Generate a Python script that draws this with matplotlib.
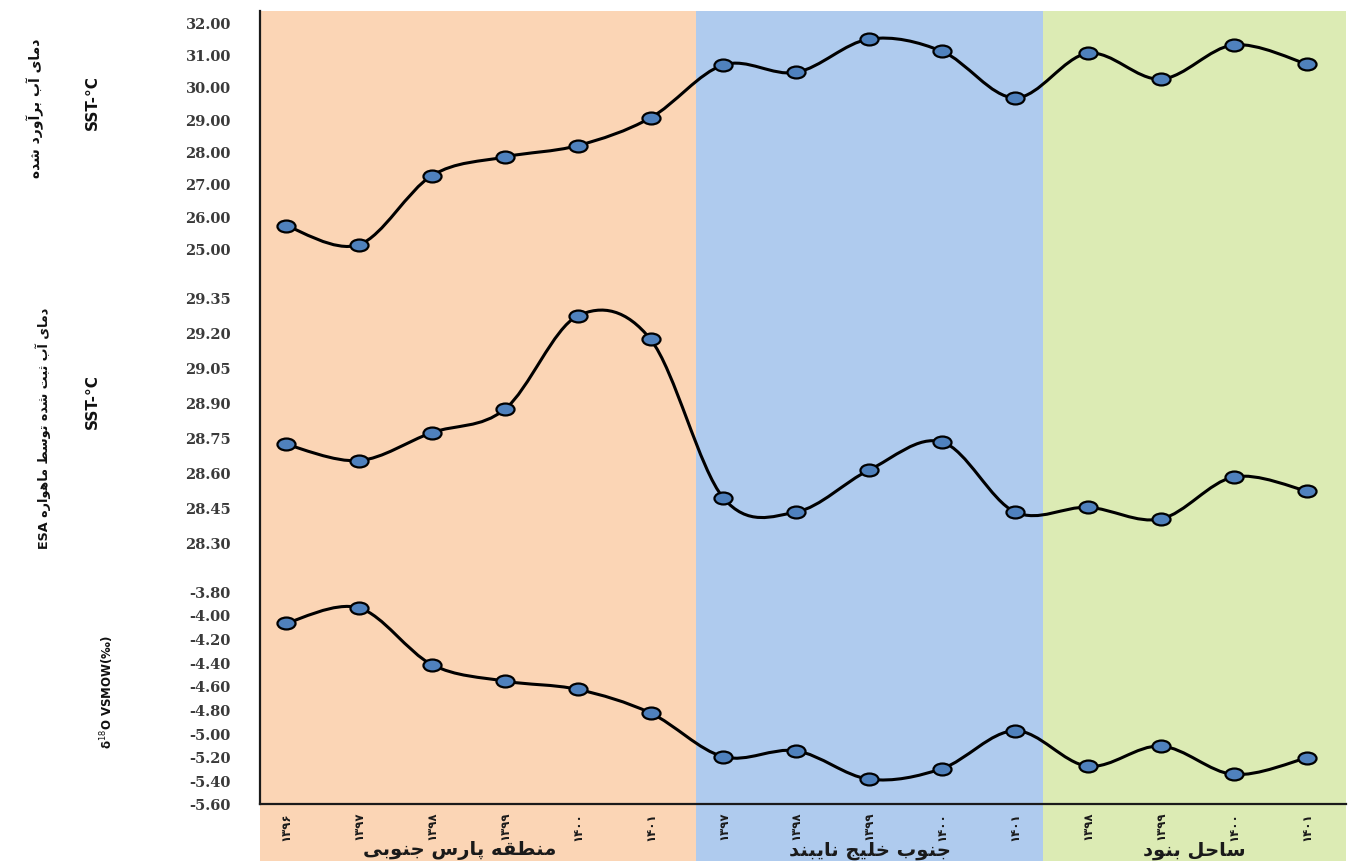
import matplotlib
matplotlib.use('Agg')
import matplotlib.pyplot as plt
from matplotlib.path import Path
from matplotlib.patches import PathPatch
import matplotlib.transforms as mtransforms
import numpy as np

# ---------------- data ----------------
years = ['۱۳۹۶', '۱۳۹۷', '۱۳۹۸', '۱۳۹۹', '۱۴۰۰', '۱۴۰۱',
         '۱۳۹۷', '۱۳۹۸', '۱۳۹۹', '۱۴۰۰', '۱۴۰۱',
         '۱۳۹۸', '۱۳۹۹', '۱۴۰۰', '۱۴۰۱']
regions = ['منطقه پارس جنوبی', 'جنوب خلیج نایبند', 'ساحل بنود']
region_sizes = [6, 5, 4]
region_colors = ['#FBD5B5', '#AFCBEE', '#DCEBB4']

sst_estimated = [25.70, 25.11, 27.25, 27.83, 28.18, 29.04, 30.68, 30.45,
                 31.48, 31.10, 29.66, 31.04, 30.24, 31.30, 30.71]
sst_esa = [28.72, 28.65, 28.77, 28.87, 29.27, 29.17, 28.49, 28.43,
           28.61, 28.73, 28.43, 28.45, 28.40, 28.58, 28.52]
d18o = [-4.07, -3.94, -4.42, -4.56, -4.63, -4.83, -5.20, -5.15,
        -5.39, -5.30, -4.98, -5.28, -5.11, -5.35, -5.21]

ticks_top = [25.00, 26.00, 27.00, 28.00, 29.00, 30.00, 31.00, 32.00]
ticks_mid = [28.30, 28.45, 28.60, 28.75, 28.90, 29.05, 29.20, 29.35]
ticks_bot = [-5.60, -5.40, -5.20, -5.00, -4.80, -4.60, -4.40, -4.20, -4.00, -3.80]

label_top = 'دمای آب برآورد شده'
label_mid = 'دمای آب ثبت شده توسط ماهواره'
label_unit = 'SST-°C'
label_bot = r'δ$^{18}$O VSMOW(‰)'

# ------------- Persian shaping (presentation forms, visual order) -------------
FORMS = {
    'ا': ('\uFE8D', '\uFE8E', None, None),
    'آ': ('\uFE81', '\uFE82', None, None),
    'ب': ('\uFE8F', '\uFE90', '\uFE91', '\uFE92'),
    'پ': ('\uFB56', '\uFB57', '\uFB58', '\uFB59'),
    'ت': ('\uFE95', '\uFE96', '\uFE97', '\uFE98'),
    'ث': ('\uFE99', '\uFE9A', '\uFE9B', '\uFE9C'),
    'ج': ('\uFE9D', '\uFE9E', '\uFE9F', '\uFEA0'),
    'ح': ('\uFEA1', '\uFEA2', '\uFEA3', '\uFEA4'),
    'خ': ('\uFEA5', '\uFEA6', '\uFEA7', '\uFEA8'),
    'د': ('\uFEA9', '\uFEAA', None, None),
    'ر': ('\uFEAD', '\uFEAE', None, None),
    'ز': ('\uFEAF', '\uFEB0', None, None),
    'س': ('\uFEB1', '\uFEB2', '\uFEB3', '\uFEB4'),
    'ش': ('\uFEB5', '\uFEB6', '\uFEB7', '\uFEB8'),
    'ط': ('\uFEC1', '\uFEC2', '\uFEC3', '\uFEC4'),
    'ق': ('\uFED5', '\uFED6', '\uFED7', '\uFED8'),
    'ل': ('\uFEDD', '\uFEDE', '\uFEDF', '\uFEE0'),
    'م': ('\uFEE1', '\uFEE2', '\uFEE3', '\uFEE4'),
    'ن': ('\uFEE5', '\uFEE6', '\uFEE7', '\uFEE8'),
    'ه': ('\uFEE9', '\uFEEA', '\uFEEB', '\uFEEC'),
    'و': ('\uFEED', '\uFEEE', None, None),
    'ی': ('\uFBFC', '\uFBFD', '\uFBFE', '\uFBFF'),
}


def shape_fa(text):
    out = []
    n = len(text)
    for i, ch in enumerate(text):
        if ch not in FORMS:
            out.append(ch)
            continue
        prev = text[i - 1] if i > 0 else ''
        nxt = text[i + 1] if i + 1 < n else ''
        cp = prev in FORMS and FORMS[prev][2] is not None
        cn = nxt in FORMS and FORMS[ch][2] is not None
        iso, fin, ini, med = FORMS[ch]
        if cp and cn:
            out.append(med)
        elif cp:
            out.append(fin)
        elif cn:
            out.append(ini)
        else:
            out.append(iso)
    return ''.join(out)[::-1]


# ---------------- figure ----------------
W, H = 1351, 862
fig = plt.figure(figsize=(W / 100, H / 100), dpi=100)
fig.patch.set_facecolor('white')

FA = 'DejaVu Sans'
NUM = 'DejaVu Serif'


def px_rect(x0, y0, x1, y1):
    return [x0 / W, 1 - y1 / H, (x1 - x0) / W, (y1 - y0) / H]


# x mapping: category index -> pixel
X0_PX, DX_PX = 286.0, 72.9
LEFT_PX, RIGHT_PX, TOP_PX, AXIS_PX = 260.0, 1346.0, 12.0, 805.0
xlim = ((LEFT_PX - X0_PX) / DX_PX, (RIGHT_PX - X0_PX) / DX_PX)
xs = np.arange(len(years))

# background axes (colored regions, frame, x tick labels)
bg = fig.add_axes(px_rect(LEFT_PX, TOP_PX, RIGHT_PX, AXIS_PX))
bg.set_xlim(*xlim)
bg.set_ylim(0, 1)
bg.set_facecolor('none')
bounds = [xlim[0], 5.63, 10.38, xlim[1]]
below = -(H - AXIS_PX) / (AXIS_PX - TOP_PX)
for k in range(3):
    bg.axvspan(bounds[k], bounds[k + 1], ymin=below, ymax=1,
               color=region_colors[k], lw=0, clip_on=False, zorder=0)
for s in ['top', 'right']:
    bg.spines[s].set_visible(False)
for s in ['left', 'bottom']:
    bg.spines[s].set_linewidth(1.6)
    bg.spines[s].set_color('#1a1a1a')
    bg.spines[s].set_zorder(5)
bg.set_yticks([])
bg.set_xticks(xs)
bg.set_xticklabels(years, rotation=90, fontsize=8.5, fontweight='bold',
                   family=FA, color='#1a1a1a')
bg.tick_params(axis='x', length=0, pad=5)

# region labels
trans = mtransforms.blended_transform_factory(bg.transData, fig.transFigure)
for k, name in enumerate(regions):
    centre = (bounds[k] + bounds[k + 1]) / 2
    if k == 0:
        centre -= 0.25
    bg.text(centre, 1 - 851 / H, shape_fa(name), transform=trans,
            ha='center', va='center', fontsize=14, fontweight='bold',
            family=FA, color='#1a1a1a')


def smooth_path(xv, yv):
    pts = np.column_stack([xv, yv]).astype(float)
    n = len(pts)
    verts = [pts[0]]
    codes = [Path.MOVETO]
    for i in range(n - 1):
        p0 = pts[i - 1] if i > 0 else pts[i]
        p1, p2 = pts[i], pts[i + 1]
        p3 = pts[i + 2] if i + 2 < n else pts[i + 1]
        verts += [p1 + (p2 - p0) / 6.0, p2 - (p3 - p1) / 6.0, p2]
        codes += [Path.CURVE4] * 3
    return Path(verts, codes)


circ = Path.unit_circle()
ellipse = Path(circ.vertices * np.array([1.0, 0.66]), circ.codes)

panels = [
    (sst_estimated, ticks_top, 23.3, 249.3),
    (sst_esa, ticks_mid, 298.3, 543.3),
    (d18o, ticks_bot, 592.3, 805.0),
]
for vals, ticks, ytop, ybot in panels:
    ax = fig.add_axes(px_rect(LEFT_PX, ytop, RIGHT_PX, ybot))
    ax.set_facecolor('none')
    ax.set_xlim(*xlim)
    ax.set_ylim(ticks[0], ticks[-1])
    for s in ax.spines.values():
        s.set_visible(False)
    ax.set_xticks([])
    ax.set_yticks(ticks)
    ax.set_yticklabels(['%.2f' % t for t in ticks], fontsize=10.5,
                       fontweight='bold', family=NUM, color='#3a3a3a')
    ax.tick_params(axis='y', length=0, pad=21)
    patch = PathPatch(smooth_path(xs, vals), facecolor='none',
                      edgecolor='black', lw=2.2, clip_on=False, zorder=3)
    ax.add_patch(patch)
    ax.plot(xs, vals, linestyle='none', marker=ellipse, markersize=13,
            markerfacecolor='#4F81BD', markeredgecolor='black',
            markeredgewidth=1.6, clip_on=False, zorder=4)

# y-axis titles
fig.text(35 / W, 1 - 108 / H, shape_fa(label_top), rotation=90,
         ha='center', va='center', fontsize=10, fontweight='bold',
         family=FA, color='#111111')
fig.text(92 / W, 1 - 103 / H, label_unit, rotation=90,
         ha='center', va='center', fontsize=11, fontweight='bold',
         family=FA, color='#111111')
fig.text(43 / W, 1 - 428 / H, 'ESA ' + shape_fa(label_mid), rotation=90,
         ha='center', va='center', fontsize=9.2, fontweight='bold',
         family=FA, color='#111111')
fig.text(92 / W, 1 - 402 / H, label_unit, rotation=90,
         ha='center', va='center', fontsize=11, fontweight='bold',
         family=FA, color='#111111')
fig.text(107 / W, 1 - 692 / H, label_bot, rotation=90,
         ha='center', va='center', fontsize=8.5, fontweight='bold',
         family=FA, color='#111111')

fig.savefig('out.png', dpi=100, facecolor='white')
